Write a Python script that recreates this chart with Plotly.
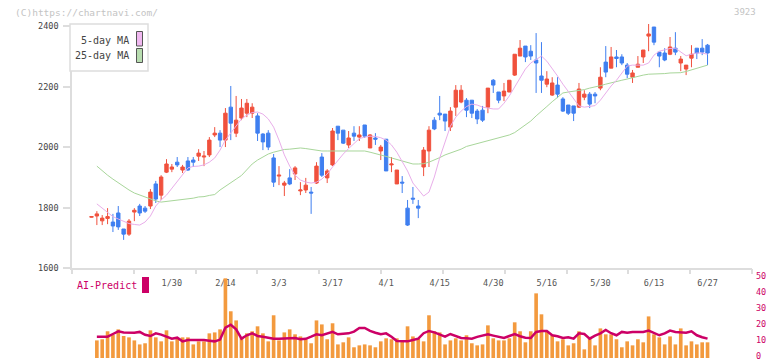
import numpy as np
import plotly.graph_objects as go

W, H = 772, 361
def fx(p):
    return p / W
def fy(p):
    return 1 - p / H

MONO = "DejaVu Sans Mono"
RED = "#f0513d"
BLUE = "#3f7ff0"

# ---- data ----
date_labels = ["1/30", "2/14", "3/3", "3/17", "4/1", "4/15", "4/30", "5/16", "5/30", "6/13", "6/27"]
label_idx = [15, 25, 35, 45, 55, 65, 75, 85, 95, 105, 115]

opens = [1768,1772,1756,1764,1752,1782,1729,1712,1785,1805,
         1798,1805,1878,1841,1917,1927,1950,1924,1954,1957,
         1970,1967,1974,2040,2046,2023,2132,2046,2096,2112,
         2112,2103,2043,2046,1964,1904,1874,1898,1911,1855,
         1858,1851,1881,1967,1898,1941,2069,2056,2007,2046,
         2033,2073,1997,2030,1987,2026,1941,1878,1884,1798,
         1831,1805,1934,1987,2089,2112,2109,2066,2132,2149,
         2155,2155,2119,2122,2132,2221,2182,2169,2182,2238,
         2301,2334,2317,2288,2235,2208,2172,2205,2159,2139,
         2136,2132,2165,2175,2175,2195,2281,2261,2298,2298,
         2271,2231,2264,2298,2367,2397,2314,2311,2307,2327,
         2278,2258,2294,2327,2327,2337]
closes = [1770,1779,1765,1770,1739,1736,1712,1755,1791,1782,
          1788,1851,1828,1901,1944,1934,1941,1934,1924,1950,
          1980,1970,2023,2046,2023,2112,2079,2089,2129,2145,
          2132,2046,2017,2000,1884,1907,1881,1878,1931,1858,
          1874,1848,1937,1907,1921,2053,2046,2013,2030,2036,
          2040,2036,2040,2026,2000,1921,1944,1924,1881,1742,
          1828,1798,1990,2056,2060,2106,2086,2119,2188,2188,
          2122,2112,2093,2089,2195,2205,2155,2185,2221,2307,
          2327,2298,2301,2278,2221,2225,2212,2175,2119,2112,
          2112,2192,2175,2142,2169,2231,2248,2298,2293,2278,
          2241,2245,2274,2321,2374,2347,2301,2288,2331,2314,
          2291,2271,2307,2311,2314,2311]
highs = [1771,1788,1775,1798,1779,1805,1729,1762,1798,1812,
         1805,1861,1888,1907,1960,1944,1967,1941,1967,1967,
         1993,1987,2033,2066,2056,2129,2202,2169,2159,2159,
         2145,2112,2046,2056,1977,1937,1888,1927,1937,1884,
         1898,1868,1950,1980,1927,2063,2069,2056,2053,2069,
         2069,2073,2043,2046,2007,2026,1967,1924,1904,1825,
         1868,1825,2000,2069,2099,2169,2109,2132,2205,2205,
         2162,2155,2126,2136,2195,2225,2182,2212,2221,2307,
         2354,2334,2337,2377,2347,2251,2231,2231,2165,2139,
         2136,2212,2188,2182,2182,2264,2334,2331,2321,2307,
         2278,2255,2301,2321,2407,2397,2314,2327,2364,2380,
         2301,2271,2337,2327,2357,2341]
lows = [1767,1742,1742,1745,1719,1726,1693,1706,1755,1772,
        1782,1795,1815,1825,1914,1917,1934,1914,1921,1934,
        1954,1937,1967,2033,2000,2000,2023,2033,2089,2099,
        2096,2020,1990,1990,1868,1874,1838,1874,1891,1841,
        1848,1779,1878,1901,1881,1937,2023,2010,1997,2020,
        2020,2030,1997,2007,1957,1921,1917,1878,1848,1739,
        1812,1765,1904,1934,2056,2089,2053,2053,2103,2145,
        2099,2096,2076,2083,2112,2179,2145,2152,2182,2235,
        2301,2281,2288,2179,2179,2198,2169,2162,2116,2106,
        2086,2129,2155,2129,2145,2188,2231,2261,2264,2271,
        2228,2212,2264,2278,2317,2337,2264,2284,2304,2304,
        2251,2238,2264,2291,2304,2271]

ma5 = [None,
       1812,1798,1782,1770,1762,1755,1747,1744,1742,1752,
       1772,1805,1825,1841,1864,1884,1911,1931,1936,1937,
       1941,1950,1964,1990,2023,2046,2069,2093,2106,2114,
       2116,2109,2093,2066,2023,1974,1937,1907,1891,1884,
       1881,1884,1894,1911,1934,1957,1977,1995,2013,2028,
       2033,2036,2035,2031,2023,2007,1983,1954,1921,1881,
       1858,1838,1851,1901,1964,2013,2069,2099,2119,2134,
       2142,2139,2132,2129,2126,2126,2145,2169,2198,2228,
       2258,2278,2291,2301,2284,2261,2235,2208,2185,2159,
       2136,2132,2134,2137,2155,2179,2202,2221,2245,2268,
       2271,2271,2271,2278,2304,2317,2322,2326,2327,2314,
       2302,2307,2311,2311,2307]
ma25 = [None,
        1937,1921,1907,1894,1881,1871,1858,1848,1841,1835,
        1828,1822,1818,1820,1823,1826,1828,1830,1831,1835,
        1836,1840,1843,1858,1871,1883,1894,1906,1924,1944,
        1957,1967,1977,1983,1988,1992,1993,1995,1997,1995,
        1992,1988,1987,1987,1987,1987,1987,1987,1987,1987,
        1987,1983,1979,1974,1969,1964,1959,1954,1949,1944,
        1944,1945,1950,1957,1965,1974,1980,1987,1993,2002,
        2007,2012,2015,2020,2025,2030,2035,2040,2048,2060,
        2073,2086,2103,2117,2134,2150,2165,2179,2182,2184,
        2187,2190,2195,2198,2203,2208,2213,2218,2221,2225,
        2230,2233,2238,2241,2241,2241,2243,2245,2245,2246,
        2250,2255,2261,2266,2271]

volume = [None,
          11,11.7,16.7,14.6,17.9,13.75,12.9,11,8.5,9.2,
          17.3,12.9,10.4,17.3,10.4,12.9,12.9,12.9,8.5,10.4,
          10.4,15.4,16,17.9,49.8,29.2,23.5,12.9,15.4,16.7,
          19.8,15.4,10.4,26.7,11,16,17.9,14.8,13.5,11.7,
          9.2,23.5,21,11.7,21.7,8.5,9.8,12.9,6.7,7.9,
          8.5,7.9,6.7,10.4,12.3,11.7,12.3,10,19.8,13.5,
          12.3,10.4,26.7,16.7,16,8.5,11,12.3,11,14.2,
          9.2,7.9,8.5,20.4,12.3,11,11,12.3,22.3,16.7,
          9.8,16.7,40.4,27.3,16.7,14.2,10.4,11.7,7.9,9.2,
          16.7,5.4,12.3,7.9,18.5,14.8,14.8,11.7,6.7,10.4,
          7.9,11.7,9.8,26,14.8,12.9,8.5,13.5,8.5,18.5,
          7.9,10.4,8.5,9.8,9.8]
ai_predict = [None,
              13.3,13.3,13.3,15,16.7,16,15.8,15.8,16.3,14.5,
              13.75,15.4,14.6,13.5,12.1,12.7,10.4,11.2,11.25,11.25,
              11.25,10.8,10.4,11.5,19,20.8,17.9,12.1,14.2,15.4,
              13.8,13.3,12.5,12.1,12.1,12.1,12.5,12.5,11.7,12,
              13.3,14.8,14.2,15.2,16.3,14.8,15.1,15.4,16.5,18.75,
              18.75,16.9,15.8,14.8,15.4,13.3,10.6,10.5,10.4,11.25,
              12.1,15.5,16.9,16,14.6,13.3,15,13.5,12.5,12.3,
              12.1,13.2,14.2,14.8,14,13.3,12.5,13.75,15,13.6,
              12.7,12.5,16.3,16.9,16.9,14.2,13.6,12.5,12.9,12.1,
              15.4,15,12.1,14,15.4,17.5,15.5,14.2,16.3,15.8,
              16.3,16.3,16.3,17.1,15.4,14.2,15.4,17.1,16.3,16,
              15.8,16.7,14.2,13,12.1]

idx = list(range(len(opens)))
x_range = [-3.64, 123.3]

fig = go.Figure()
fig.add_trace(go.Scatter(x=idx, y=ma25, mode="lines",
                         line=dict(color="#a8d69a", width=1), xaxis="x", yaxis="y",
                         hoverinfo="skip"))
fig.add_trace(go.Scatter(x=idx, y=ma5, mode="lines",
                         line=dict(color="#e9aeea", width=1), xaxis="x", yaxis="y",
                         hoverinfo="skip"))
fig.add_trace(go.Candlestick(x=idx, open=opens, high=highs, low=lows, close=closes,
                             increasing=dict(line=dict(color=RED, width=1), fillcolor=RED),
                             decreasing=dict(line=dict(color=BLUE, width=1), fillcolor=BLUE),
                             whiskerwidth=0, xaxis="x", yaxis="y"))
fig.add_trace(go.Bar(x=idx, y=volume, marker=dict(color="#f39a3e", line=dict(width=0)),
                     width=0.68, xaxis="x2", yaxis="y2"))
fig.add_trace(go.Scatter(x=idx, y=ai_predict, mode="lines",
                         line=dict(color="#cc0066", width=2.5), xaxis="x2", yaxis="y2"))
# empty helper trace so the tick-mark axis (x3) is drawn
fig.add_trace(go.Scatter(x=[None], y=[None], mode="lines", xaxis="x3", yaxis="y",
                         hoverinfo="skip"))

dom_x = [fx(72), fx(752)]
fig.update_layout(
    width=W, height=H,
    margin=dict(l=0, r=0, t=0, b=0),
    paper_bgcolor="white", plot_bgcolor="white",
    showlegend=False,
    boxgap=0.1,
    xaxis=dict(domain=dom_x, range=x_range, anchor="y",
               showline=True, linecolor="#dddddd", linewidth=1.5,
               tickmode="array", tickvals=label_idx, ticktext=date_labels,
               ticks="", ticklabelstandoff=6,
               tickfont=dict(family=MONO, size=8.5, color="#555555"),
               showgrid=False, zeroline=False,
               rangeslider=dict(visible=False), automargin=False),
    xaxis3=dict(overlaying="x", anchor="y", range=x_range, side="bottom",
                tickmode="array", tickvals=list(np.linspace(x_range[0], x_range[1], 12)),
                ticks="outside", ticklen=5, tickwidth=1.5, tickcolor="#dddddd",
                showticklabels=False, showline=False, showgrid=False, zeroline=False,
                automargin=False),
    yaxis=dict(domain=[fy(268), fy(24)], range=[1600, 2407], anchor="x",
               tickmode="array", tickvals=[1600, 1800, 2000, 2200, 2400],
               ticks="outside", ticklen=7, tickwidth=1.5, tickcolor="#dddddd",
               showline=True, linecolor="#dddddd", linewidth=1.5,
               showgrid=False, zeroline=False, automargin=False,
               ticklabelstandoff=3,
               tickfont=dict(family=MONO, size=8.5, color="#444444")),
    xaxis2=dict(domain=dom_x, range=x_range, anchor="y2", visible=False),
    yaxis2=dict(domain=[fy(358), fy(278)], range=[0, 50], anchor="x2", side="right",
                tickmode="array", tickvals=[0, 10, 20, 30, 40, 50],
                ticktext=["0", "10", "20", "30", "40", "50"],
                ticks="", showline=False, showgrid=False, zeroline=False,
                automargin=False, ticklabelstandoff=3, ticklabelshift=-2,
                ticklabeloverflow="allow",
                tickfont=dict(family=MONO, size=8.5, color="#cc0066")),
)

annotations = [
    dict(text="(C)https://chartnavi.com/", x=fx(13), y=fy(12), xanchor="left", yanchor="middle",
         font=dict(family=MONO, size=9.5, color="#c4c4c4")),
    dict(text="3923", x=fx(758), y=fy(12), xanchor="right", yanchor="middle",
         font=dict(family=MONO, size=9, color="#c4c4c4")),
    dict(text="5-day MA", x=fx(131), y=fy(40), xanchor="right", yanchor="middle",
         font=dict(family=MONO, size=10, color="#444444")),
    dict(text="25-day MA", x=fx(131), y=fy(56), xanchor="right", yanchor="middle",
         font=dict(family=MONO, size=10, color="#444444")),
    dict(text="AI-Predict", x=fx(75), y=fy(285), xanchor="left", yanchor="middle",
         font=dict(family=MONO, size=10, color="#cc0066")),
]
for a in annotations:
    a.update(xref="paper", yref="paper", showarrow=False)
fig.update_layout(annotations=annotations)

shapes = [
    dict(type="rect", x0=fx(70), x1=fx(148), y0=fy(71), y1=fy(24),
         line=dict(color="#dddddd", width=1.5), fillcolor="white", layer="above"),
    dict(type="rect", x0=fx(136.5), x1=fx(142.5), y0=fy(46), y1=fy(31.5),
         line=dict(color="#555555", width=1), fillcolor="#f0b8f0", layer="above"),
    dict(type="rect", x0=fx(136.5), x1=fx(142.5), y0=fy(62.5), y1=fy(48.5),
         line=dict(color="#555555", width=1), fillcolor="#b8ddb0", layer="above"),
    dict(type="rect", x0=fx(142), x1=fx(149), y0=fy(293), y1=fy(277),
         line=dict(width=0), fillcolor="#cc0066", layer="above"),
]
for s in shapes:
    s.update(xref="paper", yref="paper")
fig.update_layout(shapes=shapes)

fig.write_html("out.html",
               config={"displayModeBar": False},
               post_script="document.body.style.margin='0px';document.body.style.overflow='hidden';")
